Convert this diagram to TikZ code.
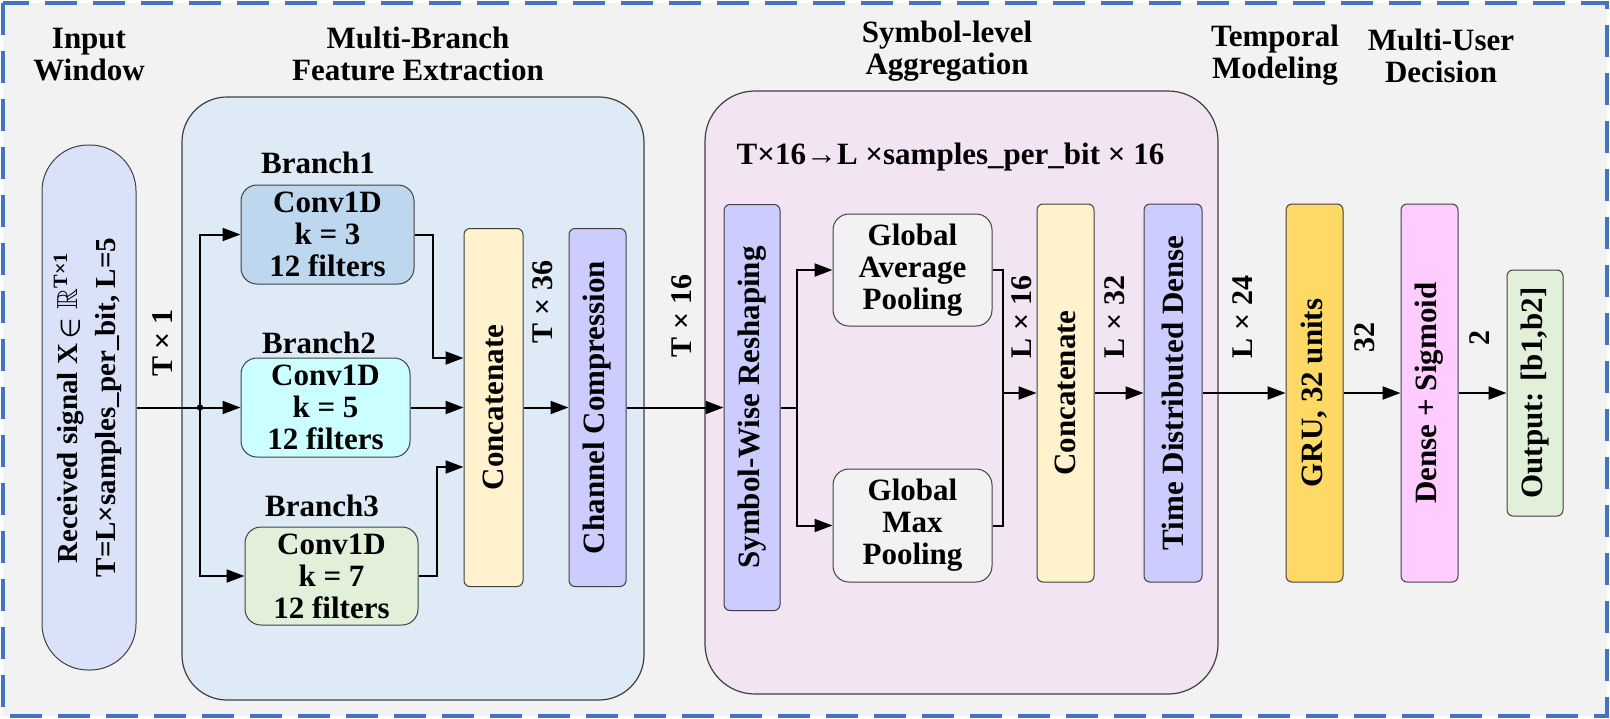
\documentclass[tikz,border=0pt]{standalone}
\usepackage{amsmath}
\usepackage{amssymb}
\usepackage{fontspec}
\setmainfont{Liberation Serif}
\usepackage{graphicx}
\usetikzlibrary{arrows.meta,calc}
\definecolor{bgc}{HTML}{F2F2F2}
\definecolor{dashc}{HTML}{4472C4}
\definecolor{pillc}{RGB}{218,226,250}
\definecolor{mbc}{HTML}{DEEBF7}
\definecolor{bonec}{HTML}{BDD7EE}
\definecolor{btwoc}{HTML}{CCFFFF}
\definecolor{bthreec}{HTML}{E2F0D9}
\definecolor{catc}{HTML}{FFF2CC}
\definecolor{purc}{HTML}{CCCCFF}
\definecolor{symc}{RGB}{243,228,243}
\definecolor{poolc}{HTML}{F2F2F2}
\definecolor{gruc}{HTML}{FFD966}
\definecolor{densec}{HTML}{FFCCFF}
\definecolor{outc}{HTML}{E2F0D9}
\definecolor{edgec}{RGB}{64,64,64}
\begin{document}
\begin{tikzpicture}[x=0.5pt,y=-0.5pt,
  txt/.style={font=\fontsize{15.5}{16}\selectfont\bfseries},
  blk/.style={draw=edgec, line width=0.5pt, inner sep=0pt, align=center, txt},
  bar/.style={blk, rounded corners=3pt},
  rbox/.style={blk, rounded corners=8pt},
  group/.style={draw=edgec, line width=0.6pt, inner sep=0pt},
  ttl/.style={txt, align=center, inner sep=0pt},
  lbl/.style={font=\fontsize{15}{16}\selectfont\bfseries, inner sep=0pt},
  conn/.style={line width=1pt},
  arrow/.style={line width=1pt, -{Triangle[length=9pt,width=6.5pt]}}]
\useasboundingbox (0,0) rectangle (1610,718);
\fill[white] (0,0) rectangle (1610,718);
\draw[dashc, line width=1.75pt, dash pattern=on 16pt off 8pt, fill=bgc] (3,3) rectangle (1607,716);

% titles
\node[ttl] (t1) at (89,55) {Input\\Window};
\node[ttl] (t2) at (418,54) {Multi-Branch\\Feature Extraction};
\node[ttl] (t3) at (947,51) {Symbol-level\\Aggregation};
\node[ttl] (t4) at (1275,55) {Temporal\\Modeling};
\node[ttl] (t5) at (1441,56) {Multi-User\\Decision};

% groups
\node[group, fill=mbc, rounded corners=22.5pt, minimum width=231pt, minimum height=301.5pt] (mb) at (413,398.5) {};
\node[group, fill=symc, rounded corners=25pt, minimum width=256.5pt, minimum height=301.5pt] (sym) at (961.5,392.5) {};

% input pill
\node[blk, fill=pillc, rounded corners=23pt, minimum width=47pt, minimum height=262.5pt] (pill) at (89,407.5)
  {\rotatebox{90}{\fontsize{14.5}{19}\selectfont\bfseries\begin{tabular}{@{}c@{}}Received signal X\,$\boldsymbol{\in}\mathbb{R}$\textsuperscript{T×1}\\T=L×samples\_per\_bit, L=5\end{tabular}}};

% branches
\node[txt, inner sep=0pt] (bl1) at (318,163) {Branch1};
\node[txt, inner sep=0pt] (bl2) at (319,343) {Branch2};
\node[txt, inner sep=0pt] (bl3) at (322,506) {Branch3};
\node[rbox, fill=bonec, minimum width=86.5pt, minimum height=49.5pt] (b1) at (327.5,234.5) {Conv1D\\k = 3\\12 filters};
\node[rbox, fill=btwoc, minimum width=84.5pt, minimum height=49.5pt] (b2) at (325.5,407.5) {Conv1D\\k = 5\\12 filters};
\node[rbox, fill=bthreec, minimum width=86.5pt, minimum height=49pt] (b3) at (331.5,576) {Conv1D\\k = 7\\12 filters};

\node[bar, fill=catc, minimum width=29.5pt, minimum height=179pt] (cat1) at (493.5,407.5) {\rotatebox{90}{Concatenate}};
\node[bar, fill=purc, minimum width=28.5pt, minimum height=179pt] (cc) at (597.5,407.5) {\rotatebox{90}{Channel Compression}};

% symbol-level
\node[txt, inner sep=0pt] (sub) at (950.5,157) {T×16→L ×samples\_per\_bit × 16};
\node[bar, fill=purc, minimum width=28pt, minimum height=203pt] (rs) at (752,407.5) {\rotatebox{90}{Symbol-Wise Reshaping}};
\node[rbox, fill=poolc, minimum width=79.5pt, minimum height=56pt] (gap) at (912.5,270) {Global\\Average\\Pooling};
\node[rbox, fill=poolc, minimum width=79.5pt, minimum height=56.5pt] (gmp) at (912.5,525.5) {Global\\Max\\Pooling};
\node[bar, fill=catc, minimum width=28.5pt, minimum height=189pt] (cat2) at (1065.5,393) {\rotatebox{90}{Concatenate}};
\node[bar, fill=purc, minimum width=29pt, minimum height=189pt] (tdd) at (1173,393) {\rotatebox{90}{Time Distributed Dense}};

% temporal / decision
\node[bar, fill=gruc, minimum width=28.5pt, minimum height=189pt] (gru) at (1314.5,393) {\rotatebox{90}{GRU, 32 units}};
\node[bar, fill=densec, minimum width=28.5pt, minimum height=189pt] (dense) at (1429.5,393) {\rotatebox{90}{Dense + Sigmoid}};
\node[bar, fill=outc, minimum width=28pt, minimum height=123pt] (out) at (1535,393) {\rotatebox{90}{Output: [b1,b2]}};

% dimension labels
\node[lbl] (l1) at (163,343) {\rotatebox{90}{T × 1}};
\node[lbl] (l2) at (543,302) {\rotatebox{90}{T × 36}};
\node[lbl] (l3) at (682,316) {\rotatebox{90}{T × 16}};
\node[lbl] (l4) at (1022,317) {\rotatebox{90}{L × 16}};
\node[lbl] (l5) at (1115,317) {\rotatebox{90}{L × 32}};
\node[lbl] (l6) at (1243,317) {\rotatebox{90}{L × 24}};
\node[lbl] (l7) at (1365,337) {\rotatebox{90}{32}};
\node[lbl] (l8) at (1480,338) {\rotatebox{90}{2}};

% connectors
\coordinate (tr) at (200,407.5);
\draw[arrow] (pill.east) -- (b2.west);
\draw[arrow] (tr) |- (b1.west);
\draw[arrow] (tr) |- (b3.west);
\fill (tr) circle (1.6pt);
\draw[arrow] (b1.east) -- ++(18,0) |- (cat1.west |- 0,358);
\draw[arrow] (b2.east) -- (b2.east -| cat1.west);
\draw[arrow] (b3.east) -- ++(18,0) |- (cat1.west |- 0,467);
\draw[arrow] (cat1.east) -- (cc.west);
\draw[arrow] (cc.east) -- (rs.west);
\coordinate (sp) at (797,407.5);
\draw[conn] (rs.east) -- (sp);
\draw[arrow] (sp) |- (gap.west);
\draw[arrow] (sp) |- (gmp.west);
\coordinate (mg) at (1003,393);
\draw[conn] (gap.east) -| (mg);
\draw[conn] (gmp.east) -| (mg);
\draw[arrow] (mg) -- (cat2.west);
\draw[arrow] (cat2.east) -- (tdd.west);
\draw[arrow] (tdd.east) -- (gru.west);
\draw[arrow] (gru.east) -- (dense.west);
\draw[arrow] (dense.east) -- (out.west);
\end{tikzpicture}
\end{document}
